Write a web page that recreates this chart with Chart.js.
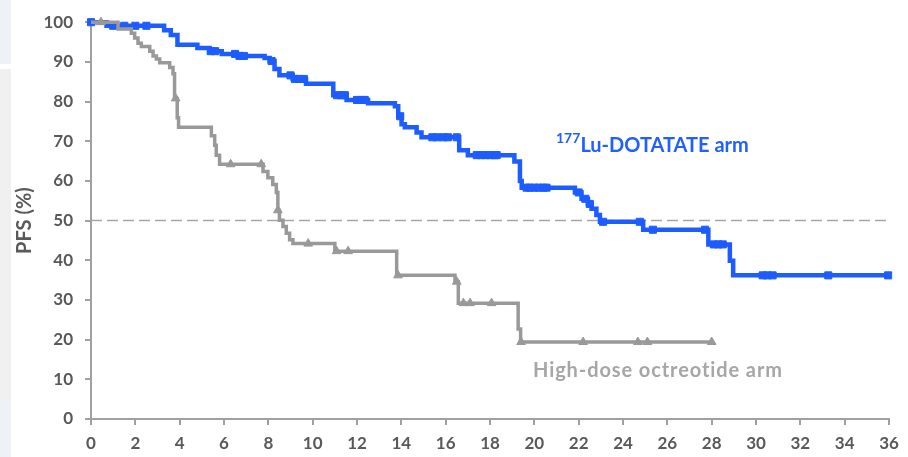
<!DOCTYPE html>
<html>
<head>
<meta charset="utf-8">
<title>PFS</title>
<script src="https://cdn.jsdelivr.net/npm/chart.js@4.4.1/dist/chart.umd.min.js"></script>
<style>
  html, body { margin: 0; padding: 0; background: #fff; }
  #wrap { position: relative; width: 908px; height: 457px; overflow: hidden; background: #fff; }
  #pfsChart { position: absolute; left: 0; top: 0; }
  .strip { position: absolute; left: 0; width: 11px; }
  .label { position: absolute; font-family: Lato, sans-serif; white-space: nowrap; line-height: 20px; font-size: 20px; font-weight: bold; }
  #luLabel { left: 556px; top: 134px; color: #2160ff; }
  #luLabel .sup { font-size: 14px; position: relative; top: -9px; }
  #octLabel { left: 533px; top: 359px; color: #a6a6a6; letter-spacing: 0.9px; }
</style>
</head>
<body>
<div id="wrap">
  <div class="strip" style="top:0;height:64px;background:#eef2f7"></div>
  <div class="strip" style="top:69px;height:331px;background:#f0f0f0"></div>
  <div class="strip" style="top:400px;height:57px;background:#eef2f7"></div>
  <canvas id="pfsChart" width="908" height="457"></canvas>
  <div class="label" id="luLabel"><span class="sup">177</span>Lu-DOTATATE arm</div>
  <div class="label" id="octLabel">High-dose octreotide arm</div>
</div>
<script>
// 177Lu-DOTATATE arm: event times (months) and PFS (%) right after each event
const luTimes = [0, 0.7, 3.3, 3.6, 3.9, 4.8, 5.35, 5.9, 6.6, 7.83, 8.06, 8.28, 8.5, 9.1, 9.7,
  10.93, 11.53, 12.5, 13.71, 13.86, 14.01, 14.16, 14.69, 14.91, 16.61, 17.0, 19.1, 19.35, 19.43,
  21.83, 22.13, 22.42, 22.58, 22.8, 22.96, 24.91, 27.85, 28.82, 28.97, 36];
const luSurv = [100, 99.1, 98.0, 96.8, 94.3, 93.5, 92.7, 92.0, 91.5, 91.0, 90.2, 88.2, 86.6, 85.7, 84.5,
  81.6, 80.4, 79.6, 78.8, 76.3, 74.3, 73.5, 72.2, 71.0, 67.7, 66.5, 64.9, 60.0, 58.3,
  57.1, 55.5, 54.2, 53.0, 51.4, 49.7, 47.7, 44.0, 39.9, 36.2, 36.2];
const luCensored = [0, 1.0, 1.5, 2.0, 2.5, 5.4, 5.6, 6.5, 6.7, 6.9, 8.15, 9.0, 9.2, 9.4, 9.6,
  11.1, 11.3, 11.45, 12.0, 12.2, 12.35, 13.95, 15.4, 15.6, 15.9, 16.1, 16.5,
  17.4, 17.6, 17.8, 18.0, 18.2, 18.3, 19.65, 19.8, 20.0, 20.2, 20.4, 20.55,
  22.0, 22.3, 22.5, 23.1, 24.76, 25.35, 27.7, 28.1, 28.3, 28.5, 30.3, 30.5, 30.75, 33.26, 35.96];

// High-dose octreotide arm
const octTimes = [0, 1.22, 1.82, 1.97, 2.12, 2.27, 2.65, 2.8, 2.95, 3.1, 3.55, 3.7, 3.77, 3.89, 3.95,
  5.43, 5.58, 5.65, 5.8, 7.76, 7.98, 8.2, 8.36, 8.43, 8.5, 8.66, 8.81, 8.96, 9.11,
  11.0, 13.79, 16.42, 16.57, 19.27, 19.38, 28];
const octSurv = [100, 98.3, 97.2, 96.0, 94.7, 93.9, 92.7, 91.5, 90.7, 89.8, 88.6, 87.0, 80.8, 75.9, 73.5,
  71.4, 69.0, 66.5, 64.2, 62.4, 60.8, 59.1, 57.1, 52.6, 50.1, 48.5, 46.8, 45.2, 44.2,
  42.3, 36.2, 34.6, 29.2, 22.7, 19.4, 19.4];
const octCensored = [0.45, 3.82, 6.3, 7.68, 8.43, 9.8, 11.08, 11.6, 13.85, 16.5, 16.8, 17.1, 18.07,
  19.4, 22.2, 24.67, 25.1, 28.0];

const medianPFS = 50;
const xMax = 36;

const luBlue = '#1d5cff';
const octGray = '#999999';
const axisGray = '#a0a0a0';
const tickText = '#595959';

function stepPoints(times, surv) {
  return times.map((t, i) => ({ x: t, y: surv[i] }));
}

// PFS value of the curve at time t (value after the last event at or before t)
function survivalAt(times, surv, t) {
  let s = surv[0];
  for (let i = 0; i < times.length; i++) {
    if (times[i] <= t) s = surv[i];
  }
  return s;
}

function censorPoints(times, surv, censored) {
  return censored.map(t => ({ x: t, y: survivalAt(times, surv, t) }));
}

const tickFont = { family: 'Lato', size: 17, weight: 'bold' };

new Chart(document.getElementById('pfsChart'), {
  type: 'scatter',
  data: {
    datasets: [
      {
        data: censorPoints(octTimes, octSurv, octCensored),
        showLine: false,
        pointStyle: 'triangle',
        pointRadius: 5,
        backgroundColor: octGray,
        borderColor: octGray,
        borderWidth: 1,
        clip: false
      },
      {
        data: stepPoints(octTimes, octSurv),
        showLine: true,
        stepped: true,
        borderColor: octGray,
        borderWidth: 3.5,
        pointRadius: 0,
        clip: false
      },
      {
        data: censorPoints(luTimes, luSurv, luCensored),
        showLine: false,
        pointStyle: 'rect',
        pointRadius: 5,
        backgroundColor: luBlue,
        borderColor: luBlue,
        borderWidth: 1,
        clip: false
      },
      {
        data: stepPoints(luTimes, luSurv),
        showLine: true,
        stepped: true,
        borderColor: luBlue,
        borderWidth: 4.5,
        pointRadius: 0,
        clip: false
      },
      {
        data: [{ x: 0, y: medianPFS }, { x: xMax, y: medianPFS }],
        showLine: true,
        borderColor: '#a6a6a6',
        borderWidth: 1.5,
        borderDash: [11, 5],
        pointRadius: 0
      }
    ]
  },
  options: {
    responsive: false,
    animation: false,
    events: [],
    layout: { padding: { top: 12, right: 19, left: 0, bottom: 0 } },
    plugins: {
      legend: { display: false },
      tooltip: { enabled: false }
    },
    scales: {
      x: {
        type: 'linear',
        min: 0,
        max: xMax,
        ticks: { stepSize: 2, color: tickText, font: tickFont, padding: 8, maxRotation: 0 },
        grid: { drawOnChartArea: false, tickLength: 6, color: axisGray, lineWidth: 2 },
        border: { color: axisGray, width: 2 },
        afterFit: s => { s.height = 38; }
      },
      y: {
        min: 0,
        max: 100,
        ticks: { stepSize: 10, color: tickText, font: tickFont, padding: 12 },
        grid: { drawOnChartArea: false, tickLength: 6, color: axisGray, lineWidth: 2 },
        border: { color: axisGray, width: 2 },
        title: {
          display: true,
          text: 'PFS (%)',
          color: tickText,
          font: { family: 'Lato', size: 20, weight: 'bold' },
          padding: { top: 13, bottom: 0 }
        },
        afterFit: s => { s.width = 91; }
      }
    }
  }
});
</script>
</body>
</html>
